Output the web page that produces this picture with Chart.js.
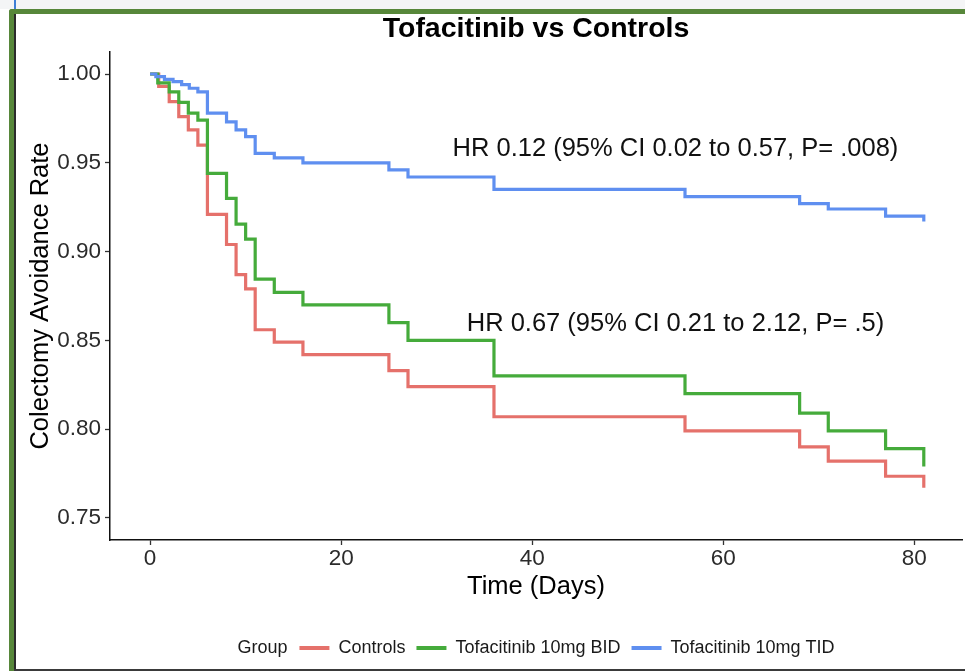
<!DOCTYPE html>
<html>
<head>
<meta charset="utf-8">
<script src="https://cdn.jsdelivr.net/npm/chart.js@4.4.1/dist/chart.umd.min.js"></script>
<style>
  html, body { margin: 0; padding: 0; background: #ffffff; overflow: hidden; }
  #wrap { position: relative; width: 965px; height: 671px; }
  #chart { position: absolute; left: 0; top: 0; }
  #topstrip { position: absolute; left: 0; top: 0; width: 965px; height: 9px; background: #f4f5f6; }
  #blueline { position: absolute; left: 14px; top: 0; width: 2px; height: 9px; background: #3f7fd6; }
  #frame { position: absolute; left: 9px; top: 9px; width: 980px; height: 680px;
           border-top: 5px solid #57873a; border-left: 5px solid #57873a; border-top-left-radius: 3px;
           pointer-events: none; }
  #inner { position: absolute; left: 14px; top: 14px; width: 1.5px; height: 656px; background: #2b2b2b; }
  #bottomline { position: absolute; left: 14px; top: 669px; width: 951px; height: 2px; background: #3a3a3a; }
</style>
</head>
<body>
<div id="wrap">
  <canvas id="chart" width="965" height="671"></canvas>
  <div id="topstrip"></div>
  <div id="blueline"></div>
  <div id="frame"></div>
  <div id="inner"></div>
  <div id="bottomline"></div>
</div>
<script>
// ---------------- data ----------------
const chartTitle = 'Tofacitinib vs Controls';
const xAxisTitle = 'Time (Days)';
const yAxisTitle = 'Colectomy Avoidance Rate';
const legendTitle = 'Group';
const seriesNames = ['Controls', 'Tofacitinib 10mg BID', 'Tofacitinib 10mg TID'];
const seriesColors = ['#e5716b', '#45ab3b', '#5f8ff0'];

const dayTicks = [0, 20, 40, 60, 80];
const rateTicks = [0.75, 0.80, 0.85, 0.90, 0.95, 1.00];

const controlsDays = [0, 0.9, 2, 3, 4, 5, 6, 8, 9, 10, 11, 13, 16, 25, 27, 36, 56, 68, 71, 77, 81];
const controlsRate = [1.000, 0.993, 0.9845, 0.976, 0.9685, 0.960, 0.921, 0.904, 0.887, 0.879, 0.856, 0.849, 0.842, 0.833, 0.824, 0.807, 0.799, 0.790, 0.782, 0.7735, 0.767];

const bidDays = [0, 0.8, 2, 3, 4, 5, 6, 8, 9, 10, 11, 13, 16, 25, 27, 36, 56, 68, 71, 77, 81];
const bidRate = [1.000, 0.995, 0.990, 0.984, 0.978, 0.974, 0.944, 0.930, 0.9155, 0.907, 0.8845, 0.877, 0.870, 0.860, 0.850, 0.830, 0.820, 0.809, 0.799, 0.789, 0.779];

const tidDays = [0, 0.6, 1.5, 2.4, 3.3, 4.1, 5, 6, 8, 9, 10, 11, 13, 16, 25, 27, 36, 56, 68, 71, 77, 81];
const tidRate = [1.000, 0.9985, 0.997, 0.9957, 0.994, 0.992, 0.990, 0.978, 0.973, 0.9685, 0.9647, 0.9553, 0.9528, 0.950, 0.946, 0.942, 0.935, 0.931, 0.927, 0.924, 0.920, 0.917];

const annotationTexts = ['HR 0.12 (95% CI 0.02 to 0.57, P= .008)', 'HR 0.67 (95% CI 0.21 to 2.12, P= .5)'];
const annotationDays = [55, 55];
const annotationRates = [0.958, 0.859];

// ---------------- chart ----------------
const FONT = "'Liberation Sans', Arial, Helvetica, sans-serif";
const toPoints = (xs, ys) => xs.map((x, i) => ({ x: x, y: ys[i] }));
const seriesDays = [controlsDays, bidDays, tidDays];
const seriesRates = [controlsRate, bidRate, tidRate];
const drawOrder = [2, 1, 0]; // later groups drawn on top, like ggplot

const datasets = seriesNames.map((name, i) => ({
  label: name,
  data: toPoints(seriesDays[i], seriesRates[i]),
  borderColor: seriesColors[i],
  backgroundColor: seriesColors[i],
  borderWidth: 3.2,
  stepped: true,
  pointRadius: 0,
  fill: false,
  tension: 0,
  borderCapStyle: 'butt',
  borderJoinStyle: 'miter',
  order: drawOrder[i]
}));

const LEGEND_FONT = 18;
const LEGEND_PAD = 11;
const GROUP_GAP = 12;

function measure(ctx, text, font) {
  ctx.save(); ctx.font = font; const w = ctx.measureText(text).width; ctx.restore(); return w;
}

const legendShiftPlugin = {
  id: 'legendShift',
  afterLayout(chart) {
    const lg = chart.legend;
    if (!lg || !lg.lineWidths) return;
    const gw = measure(chart.ctx, legendTitle, LEGEND_FONT + 'px ' + FONT);
    const itemsVisible = lg.lineWidths[0] - LEGEND_PAD;
    const center = (chart.chartArea.left + chart.chartArea.right) / 2;
    const desired = center - (gw + GROUP_GAP + itemsVisible) / 2 + gw + GROUP_GAP;
    const current = (lg.left + LEGEND_PAD + lg.right - lg.lineWidths[0]) / 2;
    const shift = desired - current;
    lg.left += shift; lg.right += shift;
    chart.$groupX = desired - GROUP_GAP - gw;
  },
  afterDraw(chart) {
    const lg = chart.legend;
    if (!lg) return;
    const ctx = chart.ctx;
    ctx.save();
    ctx.font = LEGEND_FONT + 'px ' + FONT;
    ctx.fillStyle = '#1a1a1a';
    ctx.textAlign = 'left';
    ctx.textBaseline = 'middle';
    ctx.fillText(legendTitle, chart.$groupX, lg.top + LEGEND_PAD + LEGEND_FONT / 2);
    ctx.restore();
  }
};

const annotationPlugin = {
  id: 'hrText',
  afterDatasetsDraw(chart) {
    const ctx = chart.ctx;
    const xs = chart.scales.x, ys = chart.scales.y;
    ctx.save();
    ctx.font = '25.5px ' + FONT;
    ctx.fillStyle = '#111111';
    ctx.textAlign = 'center';
    ctx.textBaseline = 'middle';
    annotationTexts.forEach((t, i) => {
      ctx.fillText(t, xs.getPixelForValue(annotationDays[i]), ys.getPixelForValue(annotationRates[i]));
    });
    ctx.restore();
  }
};

new Chart(document.getElementById('chart'), {
  type: 'line',
  data: { datasets: datasets },
  plugins: [legendShiftPlugin, annotationPlugin],
  options: {
    responsive: false,
    animation: false,
    devicePixelRatio: 1,
    layout: { padding: { left: 0, right: 3, top: 0, bottom: 4 } },
    plugins: {
      tooltip: { enabled: false },
      title: {
        display: true,
        text: chartTitle,
        fullSize: false,
        color: '#000000',
        font: { family: FONT, size: 28.5, weight: 'bold', lineHeight: 1.2 },
        padding: { top: 12.5, bottom: 5.3 }
      },
      legend: {
        display: true,
        position: 'bottom',
        fullSize: false,
        align: 'center',
        labels: {
          boxWidth: 30,
          boxHeight: 4,
          padding: LEGEND_PAD,
          color: '#1a1a1a',
          font: { family: FONT, size: LEGEND_FONT },
          generateLabels: (chart) => chart.data.datasets.map((ds, i) => ({
            text: ds.label,
            fillStyle: ds.borderColor,
            strokeStyle: ds.borderColor,
            lineWidth: 0,
            hidden: false,
            datasetIndex: i,
            fontColor: '#1a1a1a'
          }))
        }
      }
    },
    scales: {
      x: {
        type: 'linear',
        min: -4.2,
        max: 85,
        afterBuildTicks: (s) => { s.ticks = dayTicks.map(v => ({ value: v })); },
        afterFit: (s) => { s.height = 88; s.paddingLeft = 0; s.paddingRight = 0; },
        border: { display: true, color: '#111111', width: 1.5 },
        grid: { display: true, drawOnChartArea: false, drawTicks: true, tickLength: 5, tickColor: '#333333', tickWidth: 1.3 },
        ticks: { color: '#2b2b2b', padding: 0, maxRotation: 0, font: { family: FONT, size: 22.5 }, callback: (v) => String(v) },
        title: { display: true, text: xAxisTitle, color: '#000000', font: { family: FONT, size: 25.5, lineHeight: 1.2 }, padding: { top: 0, bottom: 25.7 } }
      },
      y: {
        type: 'linear',
        min: 0.7376,
        max: 1.0124,
        afterBuildTicks: (s) => { s.ticks = rateTicks.map(v => ({ value: v })); },
        afterFit: (s) => { s.width = 110; s.paddingTop = 0; s.paddingBottom = 0; },
        border: { display: true, color: '#111111', width: 1.5 },
        grid: { display: true, drawOnChartArea: false, drawTicks: true, tickLength: 5, tickColor: '#333333', tickWidth: 1.3 },
        ticks: { color: '#2b2b2b', padding: 4, font: { family: FONT, size: 22.5 }, callback: (v) => Number(v).toFixed(2) },
        title: { display: true, text: yAxisTitle, color: '#000000', font: { family: FONT, size: 25.5, lineHeight: 1.2 }, padding: { top: 26, bottom: 0 } }
      }
    }
  }
});
</script>
</body>
</html>
